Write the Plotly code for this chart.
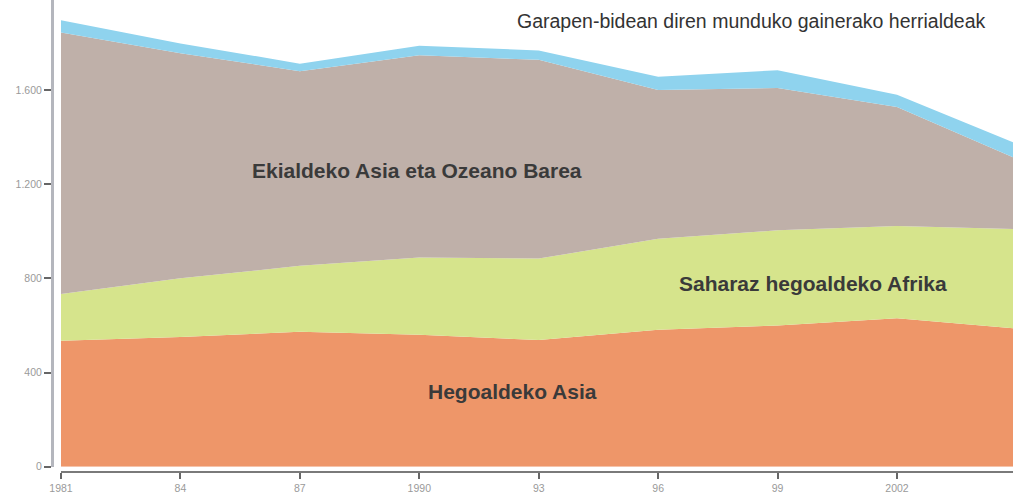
import plotly.graph_objects as go

# ---- data (millions of people) ----
years = [1981, 1984, 1987, 1990, 1993, 1996, 1999, 2002, 2005]
south_asia = [535, 551, 573, 560, 538, 582, 600, 631, 587]
sub_saharan_africa = [198, 249, 280, 329, 346, 386, 404, 391, 422]
east_asia_pacific = [1111, 956, 827, 859, 844, 632, 604, 506, 299]
rest_of_world = [52, 42, 32, 40, 40, 56, 76, 52, 64]

x_tick_vals = [1981, 1984, 1987, 1990, 1993, 1996, 1999, 2002]
x_tick_text = ["1981", "84", "87", "1990", "93", "96", "99", "2002"]
y_tick_vals = [0, 400, 800, 1200, 1600, 2000]
y_tick_text = ["0", "400", "800", "1.200", "1.600", "2.000"]

series = [
    ("Hegoaldeko Asia", south_asia, "#ee9669"),
    ("Saharaz hegoaldeko Afrika", sub_saharan_africa, "#d6e48c"),
    ("Ekialdeko Asia eta Ozeano Barea", east_asia_pacific, "#bfb0a9"),
    ("Garapen-bidean diren munduko gainerako herrialdeak", rest_of_world, "#8fd3ee"),
]

fig = go.Figure()
for name, vals, col in series:
    fig.add_trace(go.Scatter(
        x=years, y=vals, name=name, mode="lines",
        stackgroup="one", line=dict(width=0, color=col),
        fillcolor=col, hoverinfo="skip",
    ))

W, H = 1013, 500
left_axis_px = 52
plot_left_px = 61
bottom_axis_px = 472
zero_px = 466.7
px_per_year = 39.81
px_per_unit = (466.7 - 90) / 1600

x_end = 1981 + (W - plot_left_px) / px_per_year
y_top = zero_px / px_per_unit

def dx(px):
    return 1981 + (px - plot_left_px) / px_per_year

def dy(py):
    return (zero_px - py) / px_per_unit

font_family = "Liberation Sans, Arial, Helvetica, sans-serif"

fig.update_layout(
    width=W, height=H,
    margin=dict(l=left_axis_px, r=0, t=0, b=H - bottom_axis_px, pad=0),
    paper_bgcolor="white", plot_bgcolor="white",
    showlegend=False,
    font=dict(family=font_family, color="#999999", size=10),
    xaxis=dict(
        domain=[(plot_left_px - left_axis_px) / (W - left_axis_px), 1],
        range=[1981, x_end], anchor="free", position=0,
        showgrid=False, zeroline=False,
        showline=True, linecolor="#7a7a7a", linewidth=2,
        ticks="outside", ticklen=6, tickwidth=2, tickcolor="#666666",
        tickvals=x_tick_vals, ticktext=x_tick_text,
        tickfont=dict(size=10.5, color="#9a9a9a"),
    ),
    yaxis=dict(
        domain=[(bottom_axis_px - zero_px) / bottom_axis_px, 1],
        range=[0, y_top], anchor="free", position=0,
        showgrid=False, zeroline=False,
        showline=True, linecolor="#b4b6bd", linewidth=3,
        ticks="outside", ticklen=7, tickwidth=2, tickcolor="#666666",
        tickvals=y_tick_vals, ticktext=y_tick_text,
        tickfont=dict(size=10.5, color="#9a9a9a"),
    ),
)

label_font = dict(family=font_family, size=21, color="#3a3a3a")
annotations = [
    ("<b>Ekialdeko Asia eta Ozeano Barea</b>", 417, 170, label_font),
    ("<b>Saharaz hegoaldeko Afrika</b>", 813, 283, label_font),
    ("<b>Hegoaldeko Asia</b>", 512, 391, label_font),
    ("Garapen-bidean diren munduko gainerako herrialdeak", 751, 21,
     dict(family=font_family, size=19.5, color="#333333")),
]
for text, px, py, f in annotations:
    fig.add_annotation(x=dx(px), y=dy(py), xref="x", yref="y", text=text,
                       showarrow=False, font=f, xanchor="center", yanchor="middle")

fig.write_html(
    "out.html",
    config={"displayModeBar": False, "staticPlot": True},
    post_script="document.body.style.margin='0';document.body.style.overflow='hidden';",
)
